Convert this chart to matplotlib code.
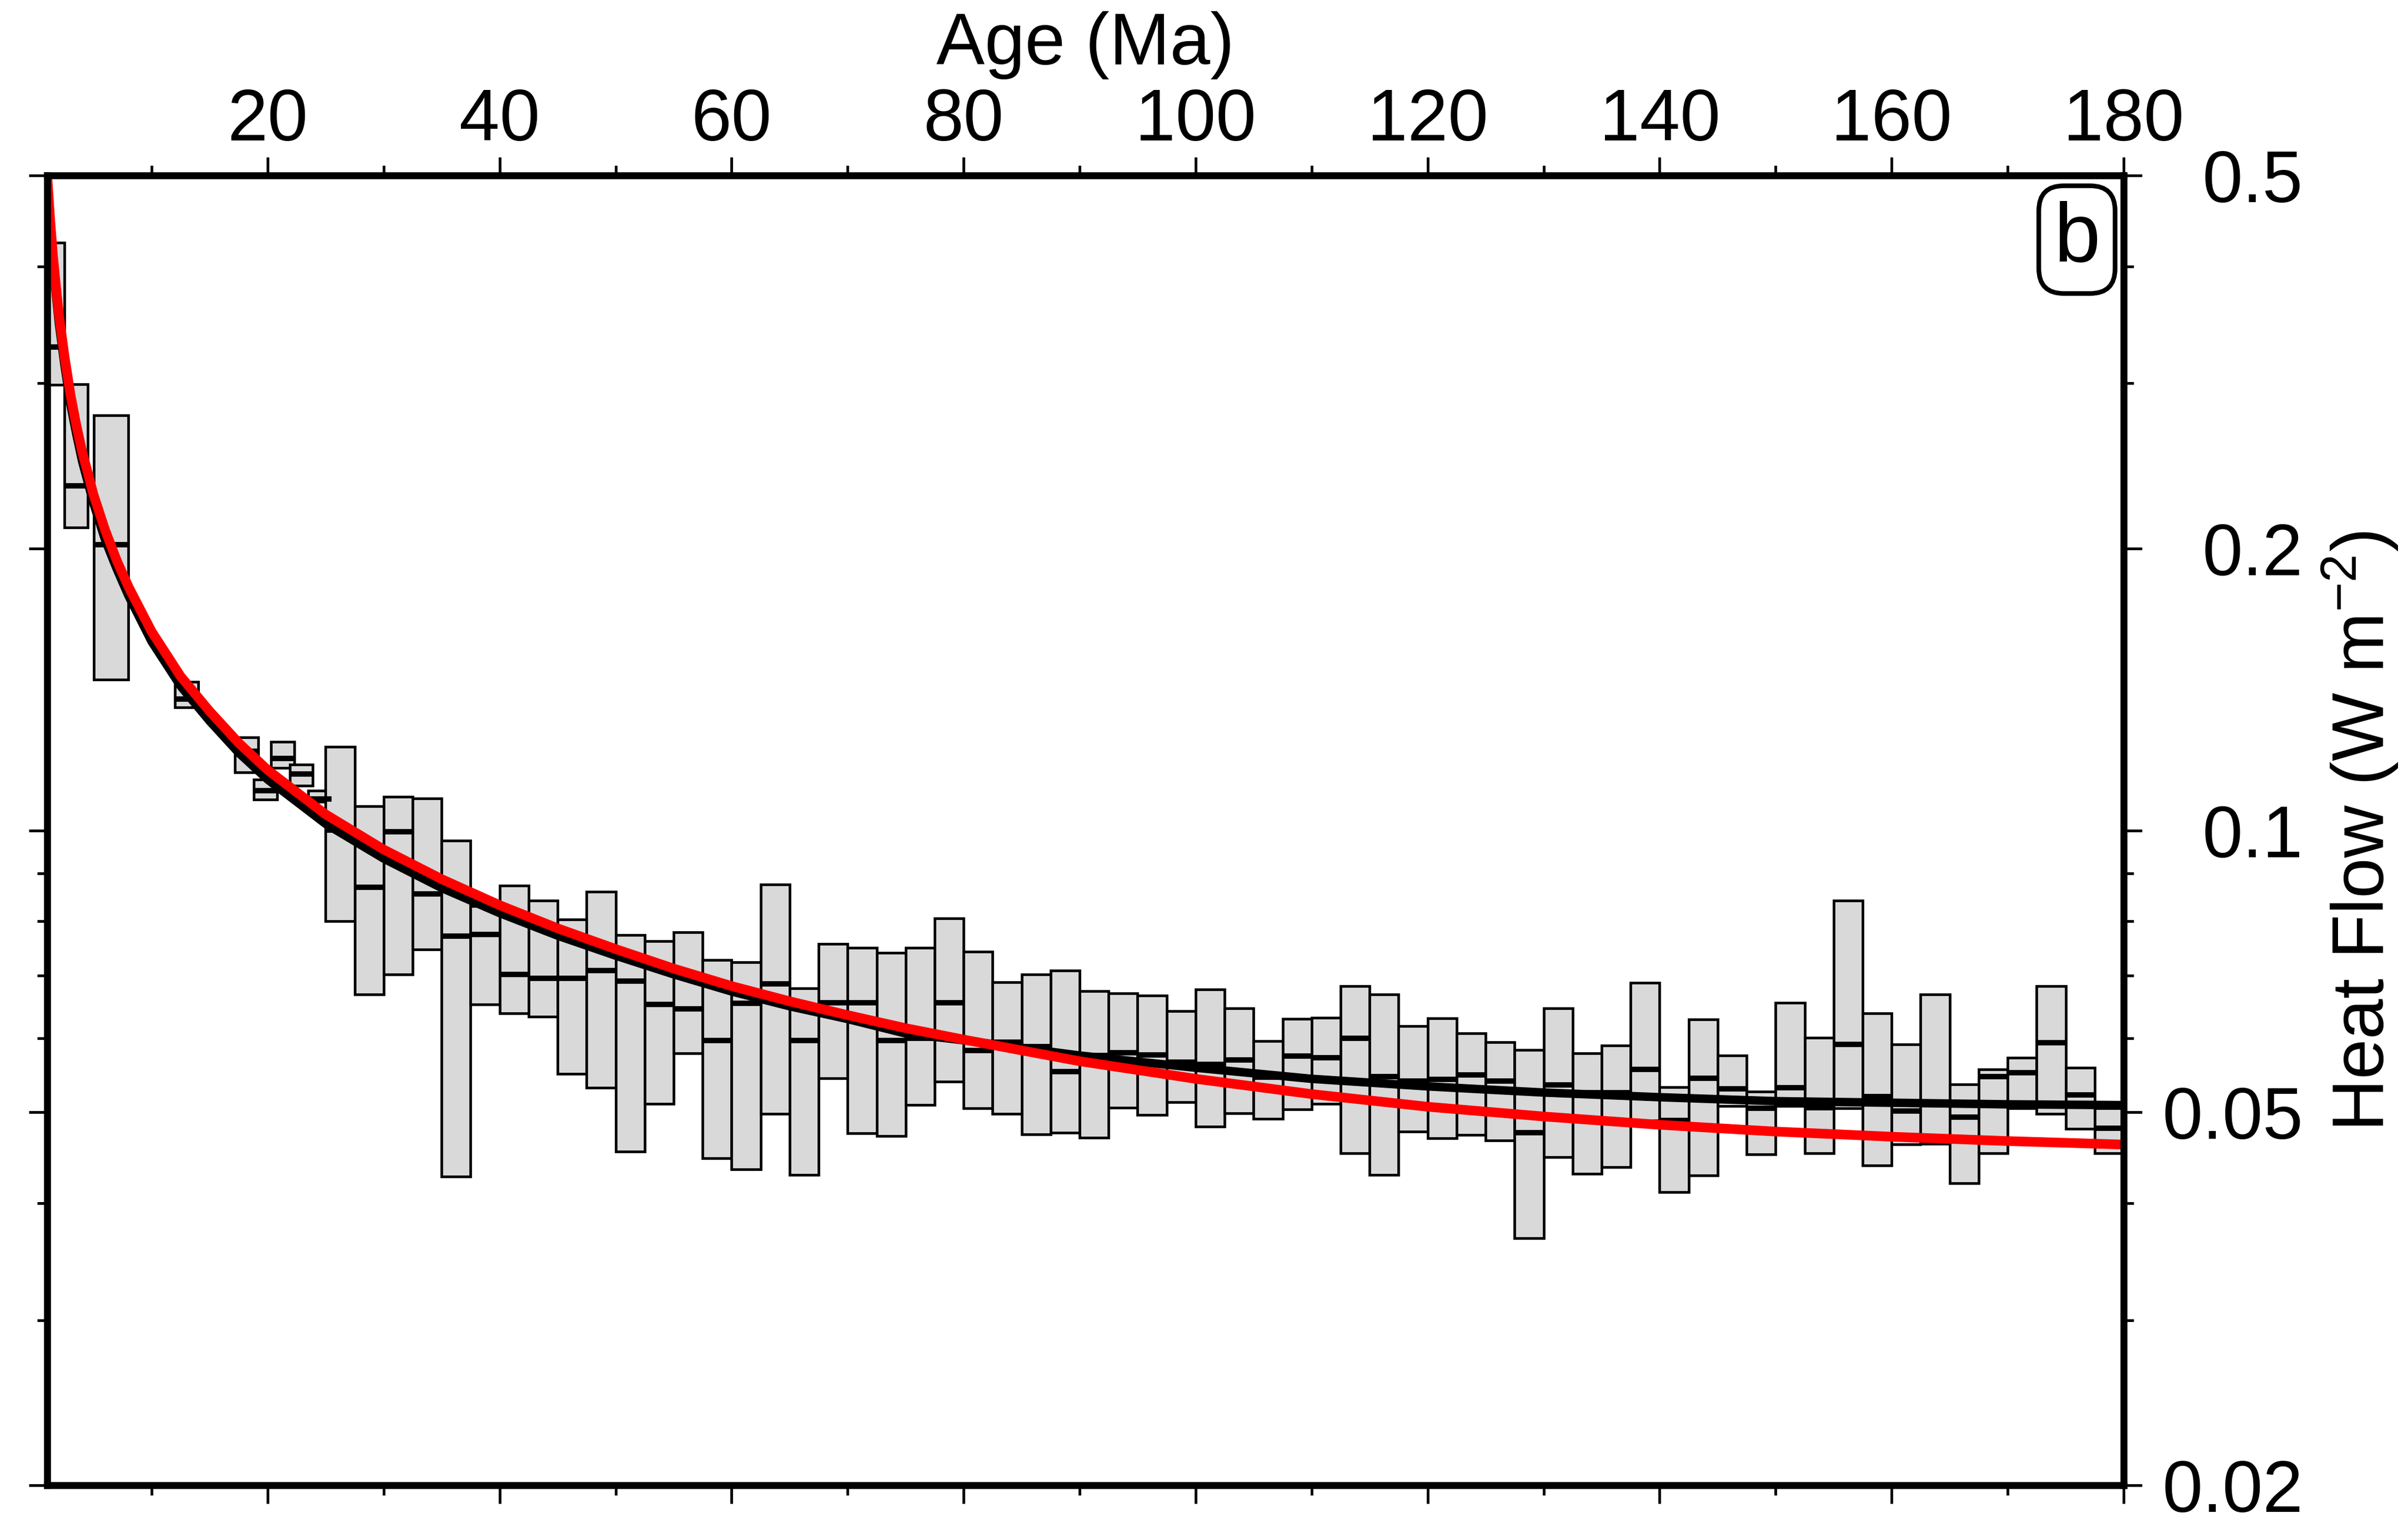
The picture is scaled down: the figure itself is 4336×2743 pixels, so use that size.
import matplotlib
matplotlib.use('Agg')
import matplotlib.pyplot as plt
import numpy as np
from matplotlib.ticker import FixedLocator, FixedFormatter, NullFormatter

plt.rcParams['font.family'] = ['Liberation Sans', 'DejaVu Sans']
plt.rcParams['mathtext.fontset'] = 'custom'
plt.rcParams['mathtext.rm'] = 'Liberation Sans'
plt.rcParams['mathtext.default'] = 'regular'

# ---------------- data (ages in Ma, heat flow in W m^-2) ----------------
box_left = [1.0, 2.5, 5.0, 12.0, 17.2, 18.8, 20.3, 21.9, 23.5,
            25.0, 27.5, 30.0, 32.5, 35.0, 37.5, 40.0, 42.5, 45.0, 47.5,
            50.0, 52.5, 55.0, 57.5, 60.0, 62.5, 65.0, 67.5, 70.0, 72.5,
            75.0, 77.5, 80.0, 82.5, 85.0, 87.5, 90.0, 92.5, 95.0, 97.5,
            100.0, 102.5, 105.0, 107.5, 110.0, 112.5, 115.0, 117.5, 120.0, 122.5,
            125.0, 127.5, 130.0, 132.5, 135.0, 137.5, 140.0, 142.5, 145.0, 147.5,
            150.0, 152.5, 155.0, 157.5, 160.0, 162.5, 165.0, 167.5, 170.0, 172.5,
            175.0, 177.5]
box_right = [2.5, 4.5, 8.0, 14.0, 19.2, 20.8, 22.3, 23.9, 25.5,
             27.5, 30.0, 32.5, 35.0, 37.5, 40.0, 42.5, 45.0, 47.5, 50.0,
             52.5, 55.0, 57.5, 60.0, 62.5, 65.0, 67.5, 70.0, 72.5, 75.0,
             77.5, 80.0, 82.5, 85.0, 87.5, 90.0, 92.5, 95.0, 97.5, 100.0,
             102.5, 105.0, 107.5, 110.0, 112.5, 115.0, 117.5, 120.0, 122.5, 125.0,
             127.5, 130.0, 132.5, 135.0, 137.5, 140.0, 142.5, 145.0, 147.5, 150.0,
             152.5, 155.0, 157.5, 160.0, 162.5, 165.0, 167.5, 170.0, 172.5, 175.0,
             177.5, 180.0]
q75 = [0.424, 0.2995, 0.2774, 0.144, 0.1257, 0.1133, 0.1243, 0.1176, 0.1102,
       0.1228, 0.1061, 0.1086, 0.1081, 0.0975, 0.0830, 0.0873, 0.0842, 0.0803, 0.0860,
       0.0773, 0.0762, 0.0779, 0.0727, 0.0723, 0.0875, 0.0678, 0.0756, 0.0749, 0.0740,
       0.0749, 0.0805, 0.0742, 0.0689, 0.0702, 0.0709, 0.0674, 0.0670, 0.0666, 0.0641,
       0.0676, 0.0646, 0.0596, 0.0629, 0.0631, 0.0682, 0.0668, 0.0618, 0.0630, 0.0607,
       0.0594, 0.0583, 0.0646, 0.0578, 0.0589, 0.0688, 0.0532, 0.0628, 0.0575, 0.0526,
       0.0655, 0.0601, 0.0841, 0.0638, 0.0591, 0.0668, 0.0536, 0.0556, 0.0572, 0.0682,
       0.0558, 0.0505]
median = [0.328, 0.2332, 0.2017, 0.138, 0.1215, 0.1102, 0.1194, 0.1148, 0.1080,
          0.1001, 0.0870, 0.0996, 0.0855, 0.0771, 0.0774, 0.0702, 0.0695, 0.0695, 0.0709,
          0.0690, 0.0652, 0.0645, 0.0597, 0.0654, 0.0686, 0.0597, 0.0655, 0.0655, 0.0597,
          0.0600, 0.0655, 0.0582, 0.0594, 0.0588, 0.0553, 0.0575, 0.0579, 0.0576, 0.0566,
          0.0563, 0.0569, 0.0545, 0.0574, 0.0572, 0.0600, 0.0546, 0.0540, 0.0542, 0.0548,
          0.0540, 0.0476, 0.0535, 0.0525, 0.0525, 0.0556, 0.0490, 0.0544, 0.0530, 0.0505,
          0.0531, 0.0506, 0.0591, 0.0520, 0.0502, 0.0510, 0.0494, 0.0546, 0.0551, 0.0593,
          0.0522, 0.0481]
q25 = [0.299, 0.2106, 0.1449, 0.1352, 0.1153, 0.1078, 0.1166, 0.1116, 0.1073,
       0.0800, 0.0668, 0.0702, 0.0746, 0.0427, 0.0652, 0.0638, 0.0633, 0.0550, 0.0531,
       0.0454, 0.0511, 0.0578, 0.0447, 0.0435, 0.0498, 0.0429, 0.0544, 0.0475, 0.0472,
       0.0509, 0.0539, 0.0505, 0.0498, 0.0474, 0.0476, 0.0470, 0.0506, 0.0497, 0.0513,
       0.0483, 0.0499, 0.0492, 0.0504, 0.0511, 0.0452, 0.0429, 0.0477, 0.0469, 0.0473,
       0.0467, 0.0367, 0.0448, 0.0430, 0.0437, 0.0490, 0.0411, 0.0428, 0.0508, 0.0451,
       0.0508, 0.0452, 0.0505, 0.0439, 0.0462, 0.0463, 0.0420, 0.0452, 0.0505, 0.0498,
       0.0480, 0.0452]

curve_age = [1, 1.25, 1.5, 1.75, 2, 2.5, 3, 3.5, 4, 5, 6, 7, 8, 10, 12.5, 15, 17.5,
             20, 25, 30, 35, 40, 45, 50, 55, 60, 65, 70, 75, 80, 90, 100, 110,
             120, 130, 140, 150, 160, 170, 180]
red_model = [0.500, 0.449, 0.410, 0.381, 0.356, 0.320, 0.292, 0.271, 0.254, 0.228,
             0.209, 0.194, 0.182, 0.163, 0.146, 0.134, 0.124, 0.116, 0.104, 0.0954,
             0.0887, 0.0832, 0.0786, 0.0747, 0.0712, 0.0682, 0.0657, 0.0635, 0.0615,
             0.0598, 0.0567, 0.0543, 0.0523, 0.0507, 0.0495, 0.0485, 0.0477, 0.0471,
             0.0466, 0.0462]
black_model = [0.490, 0.439, 0.401, 0.373, 0.348, 0.313, 0.285, 0.265, 0.248, 0.223,
               0.204, 0.190, 0.178, 0.159, 0.1425, 0.1308, 0.121, 0.1133, 0.1016, 0.0933,
               0.0868, 0.0816, 0.0772, 0.0735, 0.0702, 0.0673, 0.0649, 0.0629, 0.0607,
               0.0597, 0.0575, 0.0558, 0.0543, 0.0533, 0.0525, 0.0519, 0.0514, 0.0512,
               0.0510, 0.0509]

x_major = [20, 40, 60, 80, 100, 120, 140, 160, 180]
x_minor = [10, 30, 50, 70, 90, 110, 130, 150, 170]
y_major = [0.02, 0.05, 0.1, 0.2, 0.5]
y_major_labels = ['0.02', '0.05', '0.1', '0.2', '0.5']
y_minor = [0.03, 0.04, 0.06, 0.07, 0.08, 0.09, 0.3, 0.4]

# ---------------- figure ----------------
W, H = 4336, 2743
fig = plt.figure(figsize=(W / 100, H / 100), dpi=100)
ax_l, ax_r, ax_t, ax_b = 85, 3824, 316, 2675
ax = fig.add_axes([ax_l / W, 1 - ax_b / H, (ax_r - ax_l) / W, (ax_b - ax_t) / H])

ax.set_yscale('log')
ax.set_xlim(1, 180)
ax.set_ylim(0.02, 0.5)

left = np.array(box_left)
right = np.array(box_right)
top = np.array(q75)
bot = np.array(q25)

ax.bar(left, top - bot, width=right - left, bottom=bot, align='edge',
       color='#d9d9d9', edgecolor='black', linewidth=3.4, zorder=2)
ax.hlines(median, left, right, colors='black', linewidth=7.0, zorder=3)

ax.plot(curve_age, black_model, color='black', linewidth=11, zorder=4,
        solid_capstyle='butt')
ax.plot(curve_age, red_model, color='#ff0000', linewidth=12.5, zorder=5,
        solid_capstyle='butt')

for s in ax.spines.values():
    s.set_linewidth(9)
    s.set_zorder(6)

ax.xaxis.set_major_locator(FixedLocator(x_major))
ax.xaxis.set_minor_locator(FixedLocator(x_minor))
ax.xaxis.set_minor_formatter(NullFormatter())
ax.tick_params(axis='x', which='both', top=True, bottom=True, labeltop=True,
               labelbottom=False, direction='out', width=3.5)
ax.tick_params(axis='x', which='major', length=24, labelsize=94, pad=2)
ax.tick_params(axis='x', which='minor', length=13)

ax.yaxis.set_major_locator(FixedLocator(y_major))
ax.yaxis.set_major_formatter(FixedFormatter(y_major_labels))
ax.yaxis.set_minor_locator(FixedLocator(y_minor))
ax.yaxis.set_minor_formatter(NullFormatter())
ax.tick_params(axis='y', which='both', left=True, right=True, labelleft=False,
               labelright=True, direction='out', width=3.5)
ax.tick_params(axis='y', which='major', length=24, labelsize=94, pad=209)
ax.tick_params(axis='y', which='minor', length=13)
for tk in ax.yaxis.get_major_ticks():
    tk.label2.set_horizontalalignment('right')

fig.text((ax_l + ax_r) / 2 / W, 1 - 116 / H, 'Age (Ma)', ha='center',
         va='baseline', fontsize=94)
fig.text(4250 / W, 1 - 1497 / H, 'Heat Flow (W m$^{-2}$)', rotation=90,
         ha='center', va='center', fontsize=94)

ax.text(0.9775, 0.951, 'b', transform=ax.transAxes, ha='center', va='center',
        fontsize=108, zorder=7,
        bbox=dict(boxstyle='round,pad=0.18,rounding_size=0.3', fc='white',
                  ec='black', lw=6))

fig.savefig('out.png', dpi=100, facecolor='white')
